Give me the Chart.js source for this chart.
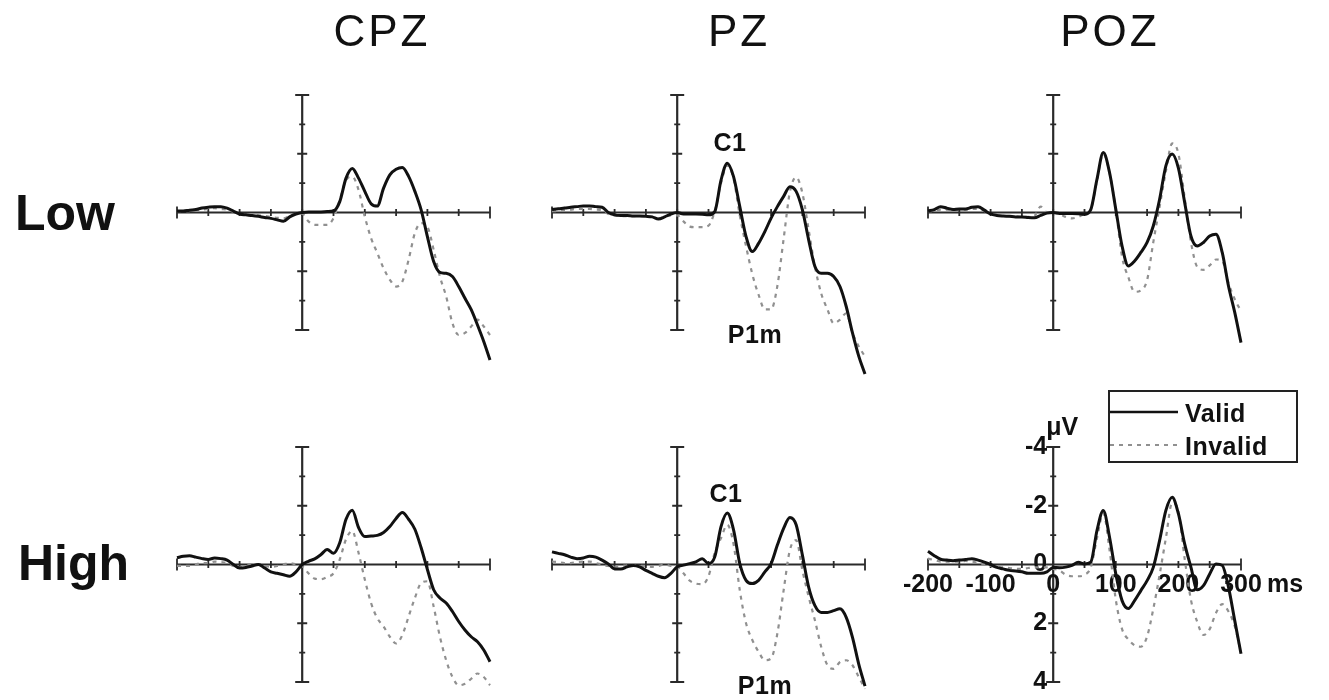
<!DOCTYPE html>
<html>
<head>
<meta charset="utf-8">
<title>ERP waveforms</title>
<script src="https://cdn.jsdelivr.net/npm/chart.js@4.4.1/dist/chart.umd.min.js"></script>
<style>
    html, body { margin: 0; padding: 0; background: #fff; overflow: hidden; }
    #page { position: relative; width: 1329px; height: 700px; font-family: "Liberation Sans", Arial, sans-serif; color: #111; }
    .panel { position: absolute; }
    .txt { position: absolute; line-height: 1; white-space: nowrap; transform: translate(-50%, -50%); }
    .title { font-size: 44px; letter-spacing: 3px; }
    .row { font-size: 50px; font-weight: bold; transform: translate(0, -50%); }
    .note { font-size: 25px; font-weight: bold; letter-spacing: 0.5px; }
    #legend { position: absolute; left: 1108px; top: 390px; width: 190px; height: 73px; box-sizing: border-box; border: 2px solid #222; }
    #legend svg { position: absolute; left: 0; top: 0; }
    #legend .lab { position: absolute; left: 75px; font-size: 25px; font-weight: bold; letter-spacing: 0.5px; line-height: 1; transform: translate(0, -50%); }
</style>
</head>
<body>
<div id="page">
    <div class="txt title" style="left:382px; top:31px;">CPZ</div>
    <div class="txt title" style="left:739px; top:31px;">PZ</div>
    <div class="txt title" style="left:1110px; top:31px;">POZ</div>

    <div class="txt row" style="left:15px; top:213px;">Low</div>
    <div class="txt row" style="left:18px; top:563px;">High</div>

    <div class="txt note" style="left:730px; top:142px;">C1</div>
    <div class="txt note" style="left:755px; top:334px;">P1m</div>
    <div class="txt note" style="left:726px; top:493px;">C1</div>
    <div class="txt note" style="left:765px; top:685px;">P1m</div>

    <div id="legend">
        <svg width="72" height="70">
            <line x1="0" y1="20" x2="68" y2="20" stroke="#111" stroke-width="2.6"/>
            <line x1="0" y1="53" x2="68" y2="53" stroke="#909090" stroke-width="2" stroke-dasharray="4,5"/>
        </svg>
        <div class="lab" style="top:21px;">Valid</div>
        <div class="lab" style="top:54px;">Invalid</div>
    </div>
</div>

<script>
// time base (ms) shared by every waveform
const times = [-200, -190, -180, -170, -160, -150, -140, -130, -120, -110, -100, -90, -80, -70, -60, -50, -40, -30, -20, -10, 0,
    10, 20, 30, 40, 50, 60, 70, 80, 90, 100, 110, 120, 130, 140, 150, 160, 170, 180, 190, 200,
    210, 220, 230, 240, 250, 260, 270, 280, 290, 300];

// amplitudes in microvolts (negative plotted up)
const cpzLowValid = [-0.05, -0.05, -0.08, -0.1, -0.15, -0.18, -0.2, -0.2, -0.15, -0.05, 0.05, 0.08, 0.1, 0.13, 0.17, 0.2, 0.25, 0.3, 0.15, 0.05, 0,
    -0.02, -0.02, -0.02, -0.03, -0.05, -0.37, -1.17, -1.5, -1.17, -0.72, -0.3, -0.22, -0.83, -1.28, -1.47, -1.53, -1.23, -0.72, -0.09, 0.82,
    1.67, 2.04, 2.07, 2.18, 2.52, 2.92, 3.31, 3.83, 4.39, 5.02];
const cpzLowInvalid = [-0.05, -0.05, -0.05, -0.08, -0.1, -0.12, -0.15, -0.12, -0.1, -0.02, 0.05, 0.08, 0.1, 0.1, 0.12, 0.15, 0.18, 0.2, 0.12, 0.05, 0.05,
    0.3, 0.42, 0.42, 0.42, 0.19, -0.43, -1.1, -1.22, -0.77, 0.14, 0.87, 1.38, 1.9, 2.29, 2.52, 2.35, 1.61, 0.7, 0.36, 0.48,
    1.27, 2.18, 2.86, 3.77, 4.17, 4.1, 3.88, 3.65, 3.88, 4.17];

const pzLowValid = [-0.1, -0.13, -0.15, -0.18, -0.2, -0.22, -0.22, -0.2, -0.18, 0, 0.08, 0.1, 0.1, 0.12, 0.12, 0.13, 0.15, 0.22, 0.15, 0.05, 0,
    0.05, 0.05, 0.05, 0.06, 0.08, -0.03, -1.1, -1.68, -1.22, -0.2, 0.82, 1.33, 1.05, 0.65, 0.19, -0.2, -0.55, -0.88, -0.72, -0.09,
    0.93, 1.84, 2.07, 2.07, 2.18, 2.52, 3.2, 4.1, 4.89, 5.5];
const pzLowInvalid = [-0.05, -0.05, -0.08, -0.1, -0.12, -0.12, -0.12, -0.1, -0.08, 0.05, 0.1, 0.12, 0.12, 0.12, 0.12, 0.13, 0.15, 0.2, 0.15, 0.1, 0.1,
    0.3, 0.48, 0.5, 0.5, 0.45, -0.05, -1.0, -1.6, -1.15, 0.1, 1.15, 2.1, 2.8, 3.3, 3.3, 2.5, 0.9, -0.7, -1.2, -0.66,
    0.59, 1.84, 2.75, 3.3, 3.77, 3.65, 3.43, 4.1, 4.56, 4.9];

const pozLowValid = [-0.05, -0.1, -0.2, -0.15, -0.1, -0.12, -0.12, -0.18, -0.2, -0.08, 0.05, 0.1, 0.12, 0.13, 0.15, 0.15, 0.17, 0.18, 0.1, 0.02, 0,
    0.03, 0.03, 0.03, 0.04, 0.06, -0.1, -1.14, -2.04, -1.36, -0.11, 1.14, 1.82, 1.65, 1.36, 1.02, 0.45, -0.45, -1.59, -1.99, -1.51,
    -0.34, 0.8, 1.14, 1.02, 0.8, 0.74, 1.36, 2.5, 3.4, 4.43];
const pozLowInvalid = [-0.05, -0.05, -0.1, -0.1, -0.08, -0.1, -0.1, -0.12, -0.12, -0.05, 0.05, 0.1, 0.12, 0.12, 0.13, 0.15, 0.15, 0.12, -0.2, 0, 0,
    0.05, 0.15, 0.2, 0.15, 0.05, -0.1, -1.1, -2.0, -1.35, -0.1, 1.5, 2.2, 2.7, 2.65, 2.3, 1.0, -0.2, -1.4, -2.35, -2.0,
    -0.5, 1.0, 1.85, 1.95, 1.8, 1.6, 1.65, 2.4, 2.95, 3.35];

const cpzHighValid = [-0.23, -0.28, -0.3, -0.25, -0.2, -0.17, -0.22, -0.2, -0.15, 0, 0.12, 0.1, 0.05, 0, 0.12, 0.25, 0.3, 0.35, 0.4, 0.25, 0,
    -0.11, -0.19, -0.34, -0.51, -0.38, -0.74, -1.54, -1.85, -1.26, -0.95, -0.97, -0.99, -1.09, -1.29, -1.57, -1.77, -1.54, -1.2, -0.57, 0.17,
    0.86, 1.14, 1.31, 1.6, 1.94, 2.23, 2.46, 2.63, 2.91, 3.31];
const cpzHighInvalid = [0.05, 0.05, 0.05, 0, -0.05, -0.05, -0.1, -0.08, -0.05, 0.05, 0.1, 0.05, 0, 0, 0.05, 0.08, 0.05, 0, -0.05, 0, 0.05,
    0.3, 0.48, 0.5, 0.42, 0.3, -0.17, -0.86, -1.14, -0.4, 0.51, 1.31, 1.83, 2.11, 2.46, 2.69, 2.4, 1.77, 1.14, 0.63, 0.57,
    1.43, 2.46, 3.26, 3.83, 4.11, 4.06, 3.89, 3.71, 3.83, 4.11];

const pzHighValid = [-0.43, -0.38, -0.33, -0.25, -0.2, -0.22, -0.28, -0.25, -0.15, -0.02, 0.15, 0.15, 0.08, 0.03, 0.08, 0.2, 0.3, 0.4, 0.45, 0.3, 0.08,
    0.02, -0.03, -0.09, -0.2, -0.03, -0.26, -1.29, -1.75, -1.18, -0.03, 0.54, 0.65, 0.54, 0.25, -0.03, -0.66, -1.23, -1.6, -1.35, -0.32,
    0.77, 1.4, 1.63, 1.63, 1.57, 1.51, 1.8, 2.48, 3.39, 4.14];
const pzHighInvalid = [-0.1, -0.08, -0.05, -0.05, -0.08, -0.1, -0.1, -0.05, 0, 0.05, 0.08, 0.05, 0.03, 0, 0.05, 0.05, 0.08, 0.05, 0, 0.05, 0.08,
    0.3, 0.55, 0.65, 0.67, 0.4, -0.4, -0.9, -1.35, -0.7, 0.88, 2.0, 2.57, 2.97, 3.26, 3.2, 2.35, 0.88, -0.49, -0.83, 0.2,
    1.1, 1.9, 2.8, 3.43, 3.55, 3.32, 3.26, 3.43, 3.83, 4.23];

const pozHighValid = [-0.45, -0.3, -0.18, -0.15, -0.13, -0.15, -0.17, -0.2, -0.15, -0.08, 0, 0.1, 0.15, 0.2, 0.22, 0.25, 0.3, 0.3, 0.3, 0.25, 0.1,
    0.11, 0.09, 0.03, -0.08, -0.02, -0.08, -1.16, -1.84, -0.93, 0.32, 1.23, 1.5, 1.23, 0.89, 0.55, 0.09, -0.82, -1.84, -2.29, -1.73,
    -0.7, 0.09, 0.86, 0.72, 0.32, -0.02, 0.03, 0.77, 1.91, 3.04];
const pozHighInvalid = [-0.2, -0.15, -0.1, -0.1, -0.1, -0.1, -0.12, -0.1, -0.05, 0, 0.05, 0.08, 0.1, 0.12, 0.15, 0.15, 0.12, 0.1, 0.1, 0.1, 0.15,
    0.2, 0.35, 0.4, 0.4, 0.35, 0.1, -0.9, -1.75, -0.5, 1.2, 2.2, 2.55, 2.75, 2.8, 2.45, 1.5, 0.35, -0.9, -2.1, -1.8,
    -0.2, 1.2, 1.95, 2.4, 2.2, 1.65, 1.35, 1.6, 2.1, 3.0];

// axis ticks
const xTickMarks = [-200, -150, -100, -50, 0, 50, 100, 150, 200, 250, 300];
const yTickMarks = [-4, -3, -2, -1, 1, 2, 3, 4];
const xTickLabels = [-200, -100, 0, 100, 200, 300];
const yTickLabels = [-4, -2, 0, 2, 4];

// plot box geometry
const PAD = 80;
const PLOT_W = 313;
const PLOT_H = 235;

const panels = [
    { left: 177, top: 95,  valid: cpzLowValid,  invalid: cpzLowInvalid,  labels: false },
    { left: 552, top: 95,  valid: pzLowValid,   invalid: pzLowInvalid,   labels: false },
    { left: 928, top: 95,  valid: pozLowValid,  invalid: pozLowInvalid,  labels: false },
    { left: 177, top: 447, valid: cpzHighValid, invalid: cpzHighInvalid, labels: false },
    { left: 552, top: 447, valid: pzHighValid,  invalid: pzHighInvalid,  labels: false },
    { left: 928, top: 447, valid: pozHighValid, invalid: pozHighInvalid, labels: true }
];

// crossing axes with tick marks, drawn under the waveforms
const erpAxes = {
    id: 'erpAxes',
    beforeDatasetsDraw(chart, args, opts) {
        const ctx = chart.ctx;
        const x = chart.scales.x;
        const y = chart.scales.y;
        const x0 = x.getPixelForValue(0);
        const y0 = y.getPixelForValue(0);
        const xL = x.getPixelForValue(-200);
        const xR = x.getPixelForValue(300);
        const yT = y.getPixelForValue(-4);
        const yB = y.getPixelForValue(4);

        ctx.save();
        ctx.strokeStyle = '#2a2a2a';
        ctx.lineWidth = 2.2;
        ctx.beginPath();
        ctx.moveTo(xL, y0);
        ctx.lineTo(xR, y0);
        ctx.moveTo(x0, yT);
        ctx.lineTo(x0, yB);
        ctx.stroke();

        ctx.lineWidth = 1.8;
        ctx.beginPath();
        xTickMarks.forEach(function(t) {
            const px = x.getPixelForValue(t);
            const h = (t === -200 || t === 300) ? 6 : 3.5;
            ctx.moveTo(px, y0 - h);
            ctx.lineTo(px, y0 + h);
        });
        yTickMarks.forEach(function(v) {
            const py = y.getPixelForValue(v);
            const w = Math.abs(v) === 4 ? 7 : (Math.abs(v) === 2 ? 5 : 3);
            ctx.moveTo(x0 - w, py);
            ctx.lineTo(x0 + w, py);
        });
        ctx.stroke();

        if (opts.labels) {
            ctx.fillStyle = '#111';
            ctx.font = 'bold 25px "Liberation Sans", Arial, sans-serif';
            ctx.textBaseline = 'middle';
            ctx.textAlign = 'center';
            xTickLabels.forEach(function(t) {
                ctx.fillText(String(t), x.getPixelForValue(t), y0 + 21);
            });
            ctx.textAlign = 'left';
            ctx.fillText('ms', xR + 26, y0 + 21);
            ctx.textAlign = 'right';
            yTickLabels.forEach(function(v) {
                ctx.fillText(String(v), x0 - 6, y.getPixelForValue(v));
            });
            ctx.textAlign = 'center';
            ctx.fillText('\u03bcV', x0 + 9, yT - 19);
        }
        ctx.restore();
    }
};

function buildPoints(values) {
    return times.map(function(t, i) { return { x: t, y: values[i] }; });
}

document.addEventListener('DOMContentLoaded', function() {
    const page = document.getElementById('page');

    panels.forEach(function(p) {
        const canvas = document.createElement('canvas');
        canvas.className = 'panel';
        canvas.width = PLOT_W + 2 * PAD;
        canvas.height = PLOT_H + 2 * PAD;
        canvas.style.left = (p.left - PAD) + 'px';
        canvas.style.top = (p.top - PAD) + 'px';
        page.insertBefore(canvas, page.firstChild);

        new Chart(canvas.getContext('2d'), {
            type: 'line',
            data: {
                datasets: [{
                    label: 'Valid',
                    data: buildPoints(p.valid),
                    borderColor: '#111',
                    borderWidth: 3,
                    pointRadius: 0,
                    cubicInterpolationMode: 'monotone',
                    clip: false
                }, {
                    label: 'Invalid',
                    data: buildPoints(p.invalid),
                    borderColor: '#909090',
                    borderWidth: 2.2,
                    borderDash: [4, 5],
                    pointRadius: 0,
                    cubicInterpolationMode: 'monotone',
                    clip: false
                }]
            },
            options: {
                responsive: false,
                animation: false,
                events: [],
                layout: { padding: PAD },
                plugins: {
                    legend: { display: false },
                    tooltip: { enabled: false },
                    erpAxes: { labels: p.labels }
                },
                scales: {
                    x: { type: 'linear', min: -200, max: 300, display: false },
                    y: { type: 'linear', min: -4, max: 4, reverse: true, display: false }
                }
            },
            plugins: [erpAxes]
        });
    });
});
</script>
</body>
</html>
